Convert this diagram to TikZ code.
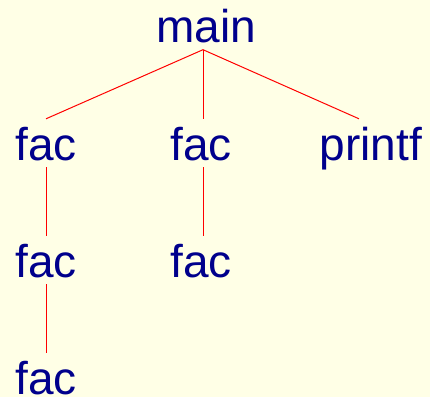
\documentclass[tikz,border=0pt]{standalone}
\usepackage{fontspec}
\setmainfont{Liberation Sans}
\definecolor{bgyel}{RGB}{255,255,230}
\definecolor{txtblue}{RGB}{0,0,140}
\begin{document}
\begin{tikzpicture}[x=1pt,y=-1pt,
  lbl/.style={anchor=base, inner sep=7pt, text height=34pt, text depth=0pt,
    text=txtblue, font=\fontsize{46}{50}\selectfont},
  link/.style={draw=red, line width=1pt}]
\fill[bgyel] (0,0) rectangle (430,397);
\useasboundingbox (0,0) rectangle (430,397);
\node[lbl] (main) at (206,42.5) {main};
\node[lbl] (facA) at (46,160) {fac};
\node[lbl] (facB) at (201,160) {fac};
\node[lbl] (printf) at (371,160) {printf};
\node[lbl] (facC) at (46,277) {fac};
\node[lbl] (facD) at (201,277) {fac};
\node[lbl] (facE) at (46,394) {fac};
\coordinate (apex) at ([xshift=-3pt]main.south);
\draw[link] (apex) -- (facA.north);
\draw[link] (apex) -- (apex |- facB.north);
\draw[link] (apex) -- ([xshift=-12pt]printf.north);
\draw[link] (facA.south) -- (facC.north);
\draw[link] ([xshift=2pt]facB.south) -- ([xshift=2pt]facD.north);
\draw[link] (facC.south) -- (facE.north);
\end{tikzpicture}
\end{document}
